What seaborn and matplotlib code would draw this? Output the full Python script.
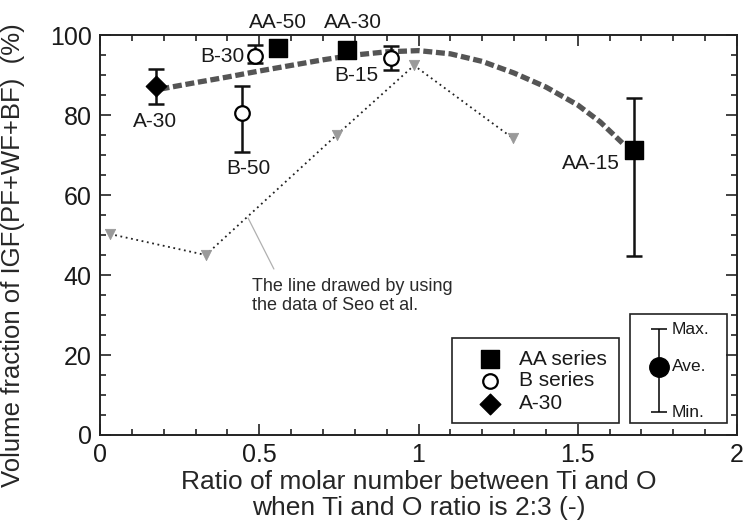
import matplotlib
matplotlib.use("Agg")
import matplotlib.pyplot as plt
from matplotlib.patches import Rectangle
from matplotlib.ticker import MultipleLocator
import numpy as np
import pandas as pd
import seaborn as sns

# AA series: ratio, average fraction, min / max (NaN where no range was measured)
aa_labels = ["AA-50", "AA-30", "AA-15"]
aa_x = [0.56, 0.775, 1.675]
aa_y = [96.7, 96.25, 71.25]
aa_min = [np.nan, np.nan, 44.75]
aa_max = [np.nan, np.nan, 84.2]

# B series
b_labels = ["B-30", "B-50", "B-15"]
b_x = [0.487, 0.445, 0.913]
b_y = [94.75, 80.6, 94.2]
b_min = [92.9, 70.8, 91.25]
b_max = [97.5, 87.25, 97.25]

# A-30 single weld
a_x = [0.176]
a_y = [87.25]
a_min = [82.7]
a_max = [91.4]

# Data of Seo et al.
seo_x = [0.031, 0.332, 0.743, 0.986, 1.296]
seo_y = [50.25, 45.0, 75.0, 92.4, 74.2]

# Trend curve through the present results
trend_x = [0.19, 0.3, 0.4, 0.5, 0.6, 0.7, 0.8, 0.9, 1.0, 1.1, 1.2, 1.3, 1.4, 1.5, 1.57, 1.64]
trend_y = [86.5, 88.1, 89.5, 91.0, 92.4, 93.8, 95.0, 95.8, 96.1, 95.3, 93.4, 90.5, 87.0, 82.5, 78.3, 73.0]

sns.set_theme(style="ticks")
plt.rcParams["font.family"] = ["Liberation Sans", "DejaVu Sans"]
plt.rcParams["text.color"] = "#1a1a1a"

fig = plt.figure(figsize=(7.46, 5.29), dpi=100)
ax = fig.add_axes([0.134, 0.1777, 0.854, 0.7561])

seo = pd.DataFrame({"x": seo_x, "y": seo_y})
trend = pd.DataFrame({"x": trend_x, "y": trend_y})
aa = pd.DataFrame({"x": aa_x, "y": aa_y, "lo": aa_min, "hi": aa_max, "label": aa_labels})
bb = pd.DataFrame({"x": b_x, "y": b_y, "lo": b_min, "hi": b_max, "label": b_labels})
a30 = pd.DataFrame({"x": a_x, "y": a_y, "lo": a_min, "hi": a_max})

# Seo et al. line
sns.lineplot(data=seo, x="x", y="y", ax=ax, color="#222222", lw=1.3,
             linestyle=(0, (1, 2)), sort=False, zorder=2)
sns.scatterplot(data=seo, x="x", y="y", ax=ax, marker="v", s=55,
                color="#9a9a9a", edgecolor="#9a9a9a", zorder=3)

# trend curve
sns.lineplot(data=trend, x="x", y="y", ax=ax, color="#555555", lw=3.8,
             sort=False, zorder=3)
ax.lines[-1].set_dashes((1.7, 0.7))


def draw_errbars(df):
    m = df["lo"].notna()
    d = df[m]
    ax.errorbar(d["x"], d["y"], yerr=[d["y"] - d["lo"], d["hi"] - d["y"]],
                fmt="none", ecolor="#111111", elinewidth=1.8, capsize=6,
                capthick=1.8, zorder=4)


draw_errbars(aa)
draw_errbars(bb)
draw_errbars(a30)

sns.scatterplot(data=aa, x="x", y="y", ax=ax, marker="s", s=160,
                color="black", edgecolor="black", zorder=5)
sns.scatterplot(data=bb, x="x", y="y", ax=ax, marker="o", s=110,
                facecolor="white", edgecolor="black", linewidth=1.6, zorder=5)
sns.scatterplot(data=a30, x="x", y="y", ax=ax, marker="D", s=110,
                color="black", edgecolor="black", zorder=5)

# point labels
lab_fs = 15
label_pos = {
    "AA-50": (0.559, 103.1),
    "AA-30": (0.795, 103.1),
    "AA-15": (1.54, 67.9),
    "B-30": (0.385, 94.6),
    "B-50": (0.466, 66.7),
    "B-15": (0.804, 90.0),
}
for name, (tx, ty) in label_pos.items():
    ax.text(tx, ty, name, fontsize=lab_fs, ha="center", va="center", clip_on=False, zorder=6)
ax.text(0.173, 78.3, "A-30", fontsize=lab_fs, ha="center", va="center", zorder=6)

# note on the Seo et al. line
ax.plot([0.465, 0.546], [54.25, 41.5], color="#b0b0b0", lw=0.9, zorder=2)
ax.text(0.476, 34.8, "The line drawed by using\nthe data of Seo et al.",
        fontsize=13, ha="left", va="center", linespacing=1.15, color="#2a2a2a")

# marker legend box
ax.add_patch(Rectangle((1.104, 3.1), 0.526, 21.2, fill=False, ec="#222222",
                       lw=1.2, zorder=6))
leg_rows = [("s", 160, "black", "AA series", 18.9),
            ("o", 110, "white", "B series", 13.5),
            ("D", 110, "black", "A-30", 7.75)]
for mk, sz, fc, txt, ly in leg_rows:
    ax.scatter([1.225], [ly], marker=mk, s=sz, facecolor=fc, edgecolor="black",
               linewidth=1.6 if fc == "white" else 1.0, zorder=7)
    ax.text(1.316, ly, txt, fontsize=15, ha="left", va="center", zorder=7)

# error bar key box
ax.add_patch(Rectangle((1.6635, 3.1), 0.3035, 27.1, fill=False, ec="#222222",
                       lw=1.2, zorder=6))
ax.errorbar([1.755], [17.1], yerr=[[17.1 - 5.7], [26.5 - 17.1]], fmt="o",
            color="black", ms=14, elinewidth=1.1, capsize=6, capthick=1.1, zorder=7)
for txt, ly in [("Max.", 26.5), ("Ave.", 17.1), ("Min.", 5.7)]:
    ax.text(1.795, ly, txt, fontsize=12.5, ha="left", va="center", zorder=7)

# axes
ax.set_xlim(0, 2)
ax.set_ylim(0, 100)
ax.xaxis.set_major_locator(MultipleLocator(0.5))
ax.xaxis.set_minor_locator(MultipleLocator(0.1))
ax.yaxis.set_major_locator(MultipleLocator(20))
ax.yaxis.set_minor_locator(MultipleLocator(5))
ax.xaxis.set_major_formatter(plt.FuncFormatter(lambda v, p: f"{v:g}"))
ax.tick_params(which="both", direction="in", top=True, right=True,
               color="#222222", width=1.2, labelsize=18, labelcolor="#1a1a1a")
ax.tick_params(which="major", length=8, pad=6)
ax.tick_params(which="minor", length=4)
for sp in ax.spines.values():
    sp.set_visible(True)
    sp.set_color("#222222")
    sp.set_linewidth(1.4)

ax.set_xlabel("Ratio of molar number between Ti and O\nwhen Ti and O ratio is 2:3 (-)",
              fontsize=19, linespacing=1.1, labelpad=2)
ax.set_ylabel("Volume fraction of IGF(PF+WF+BF)  (%)", fontsize=18.5)
ax.yaxis.set_label_coords(-0.118, 0.45)

fig.savefig("out.png", dpi=100)
